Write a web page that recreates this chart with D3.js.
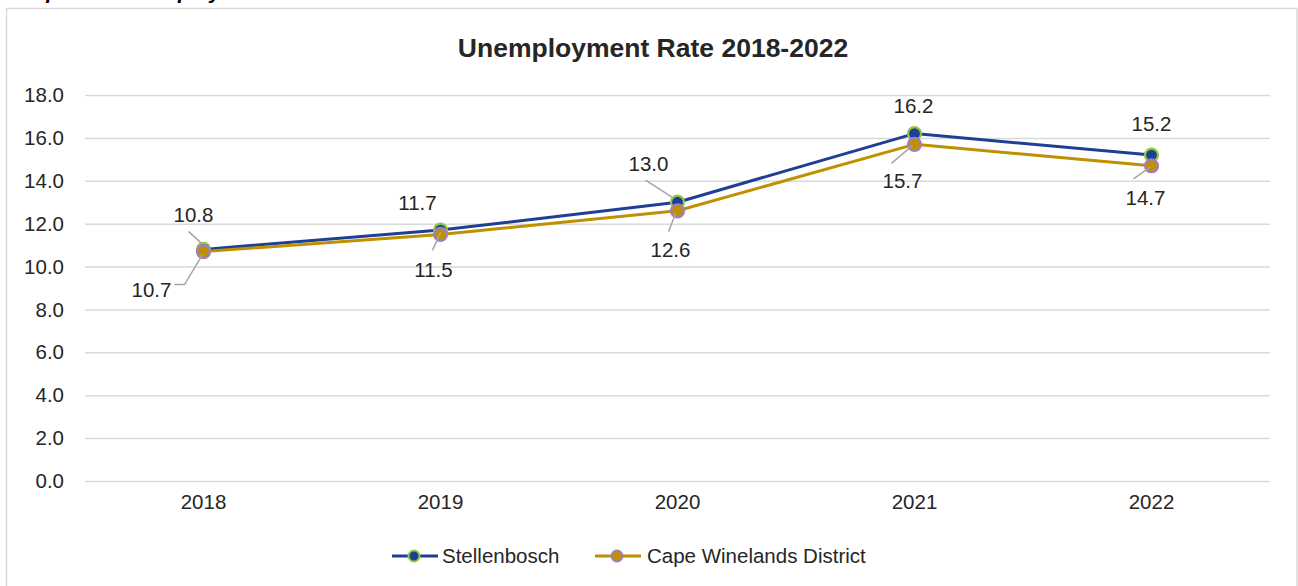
<!DOCTYPE html>
<html><head><meta charset="utf-8">
<script src="https://cdn.jsdelivr.net/npm/d3@7"></script>
<style>
html,body{margin:0;padding:0;background:#fff;}
svg{display:block;font-family:"Liberation Sans",Arial,sans-serif;}
</style></head>
<body><svg id="c" width="1298" height="586"></svg>
<script>
const years = ["2018","2019","2020","2021","2022"];
const stellenbosch = [10.8, 11.7, 13.0, 16.2, 15.2];
const capeWinelands = [10.7, 11.5, 12.6, 15.7, 14.7];
const yTicks = [0,2,4,6,8,10,12,14,16,18];
const seriesNames = ["Stellenbosch","Cape Winelands District"];
const chartTitle = "Unemployment Rate 2018-2022";
const captionText = "Graph 2.5: Unemployment Rate";

// label layout (offsets from point, leader line endpoints relative to point)
const labelLayout = [
  [ {dx:-10,dy:-35,leader:[[-15,-18],[-2,-6]]}, {dx:-23,dy:-27}, {dx:-29,dy:-39,leader:[[-32,-22],[-4,-4]]}, {dx:-1,dy:-28}, {dx:0,dy:-31} ],
  [ {dx:-52,dy:38,leader:[[-29,33],[-19,33],[-1,3]]}, {dx:-7,dy:35,leader:[[-8,16],[0,-2]]}, {dx:-7,dy:39,leader:[[-9,21],[-2,3]]}, {dx:-12,dy:36,leader:[[-23,19],[-2,1]]}, {dx:-6,dy:32,leader:[[-18,13],[-1,1]]} ]
];

const W = 1298, H = 586;
const svg = d3.select("#c");
const ink = "#262626";

// chart border
svg.append("rect").attr("x",6.5).attr("y",8.5).attr("width",1290.5).attr("height",600)
  .attr("fill","none").attr("stroke","#D9D9D9").attr("stroke-width",1.5);

// cut-off caption above
svg.append("text").attr("x",10).attr("y",-1).attr("font-size",21).attr("font-weight","bold")
  .attr("font-style","italic").attr("fill","#000").text(captionText);

// title
svg.append("text").attr("x",653).attr("y",57).attr("text-anchor","middle")
  .attr("font-size",26.5).attr("font-weight","bold").attr("fill",ink).text(chartTitle);

const x = d3.scaleBand().domain(years).range([85,1270]);
const y = d3.scaleLinear().domain([0,18]).range([481,95]);
const cx = d => x(d) + x.bandwidth()/2;

// y axis with gridlines
const yAxis = d3.axisLeft(y).tickValues(yTicks).tickFormat(d3.format(".1f"))
  .tickSize(-(1270-85)).tickPadding(21);
const gy = svg.append("g").attr("transform","translate(85,0)").call(yAxis);
gy.select(".domain").remove();
gy.selectAll(".tick line").attr("stroke","#D9D9D9").attr("stroke-width",1.5);
gy.selectAll(".tick text").attr("font-size",20.5).attr("fill",ink).attr("font-family","Liberation Sans, Arial, sans-serif");

// x axis labels
const xAxis = d3.axisBottom(x).tickSize(0).tickPadding(13);
const gx = svg.append("g").attr("transform","translate(0,481)").call(xAxis);
gx.select(".domain").remove();
gx.selectAll(".tick text").attr("font-size",20.5).attr("fill",ink).attr("font-family","Liberation Sans, Arial, sans-serif");

const series = [
  {name:seriesNames[0], values:stellenbosch, line:"#1F3F94", fill:"#1F3F94", stroke:"#92C83E"},
  {name:seriesNames[1], values:capeWinelands, line:"#BF9000", fill:"#BF9000", stroke:"#9E80C0"}
];

const lineGen = d3.line().x((d,i)=>cx(years[i])).y(d=>y(d));

// draw lines (Stellenbosch first, Cape on top)
series.forEach(s=>{
  svg.append("path").datum(s.values).attr("d",lineGen).attr("fill","none")
    .attr("stroke",s.line).attr("stroke-width",3).attr("stroke-linejoin","round");
});
series.forEach(s=>{
  svg.append("g").selectAll("circle").data(s.values).join("circle")
    .attr("cx",(d,i)=>cx(years[i])).attr("cy",d=>y(d)).attr("r",6.5)
    .attr("fill",s.fill).attr("stroke",s.stroke).attr("stroke-width",2.2);
});

// data labels with leader lines
series.forEach((s,si)=>{
  s.values.forEach((v,i)=>{
    const px = cx(years[i]), py = y(v);
    const L = labelLayout[si][i];
    if (L.leader) {
      svg.append("polyline").attr("points", L.leader.map(p=>[px+p[0],py+p[1]].join(",")).join(" "))
        .attr("fill","none").attr("stroke","#A6A6A6").attr("stroke-width",1.5);
    }
    svg.append("text").attr("x",px+L.dx).attr("y",py+L.dy).attr("dy","0.36em")
      .attr("text-anchor","middle").attr("font-size",20.5).attr("fill",ink)
      .text(d3.format(".1f")(v));
  });
});

// legend
const legendItems = [{x:392, tx:442}, {x:595, tx:647}];
series.forEach((s,si)=>{
  const lx = legendItems[si].x, ly = 556;
  svg.append("line").attr("x1",lx).attr("x2",lx+46).attr("y1",ly).attr("y2",ly)
    .attr("stroke",s.line).attr("stroke-width",3);
  svg.append("circle").attr("cx",lx+22).attr("cy",ly).attr("r",5.5)
    .attr("fill",s.fill).attr("stroke",s.stroke).attr("stroke-width",2);
  svg.append("text").attr("x",legendItems[si].tx).attr("y",ly).attr("dy","0.36em")
    .attr("font-size",20.5).attr("fill",ink).text(s.name);
});
</script></body></html>
